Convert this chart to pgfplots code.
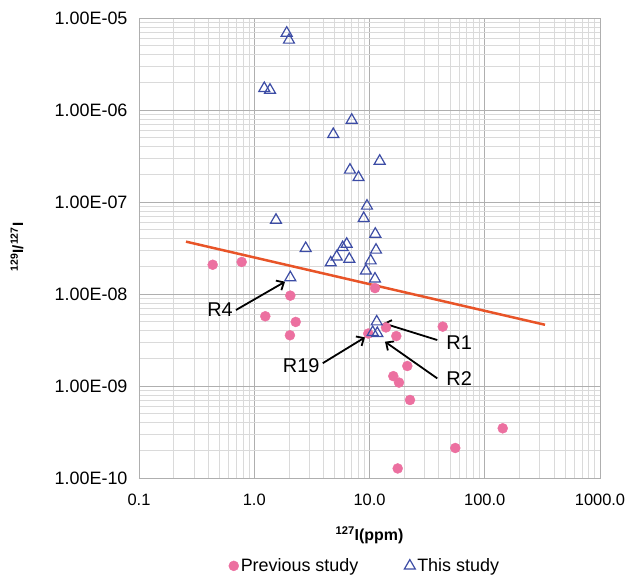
\documentclass[border=0pt]{standalone}
\usepackage{fontspec}
\setmainfont{Liberation Sans}
\usepackage{pgfplots}
\pgfplotsset{compat=1.18}
\usetikzlibrary{arrows.meta}

\definecolor{prevpink}{RGB}{236,112,160}
\definecolor{thisblue}{RGB}{60,76,165}
\definecolor{trendred}{RGB}{232,84,40}
\definecolor{majgrid}{RGB}{175,175,175}
\definecolor{mingrid}{RGB}{218,218,218}

\tikzset{
  callout/.style={-{Straight Barb[length=6bp,width=11bp]}, line width=1.8bp, black},
  rlabel/.style={font=\fontsize{20}{24}\selectfont, inner sep=3bp},
}

\begin{document}
\begin{tikzpicture}
\useasboundingbox (-139bp,-98bp) rectangle (491bp,478bp);
\begin{axis}[
  scale only axis, width=461bp, height=460bp,
  xmode=log, ymode=log,
  xmin=0.1, xmax=1000, ymin=1e-10, ymax=1e-5,
  xtick={0.1,1,10,100,1000},
  xticklabels={0.1,1.0,10.0,100.0,1000.0},
  ytick={1e-10,1e-9,1e-8,1e-7,1e-6,1e-5},
  yticklabels={1.00E-10,1.00E-09,1.00E-08,1.00E-07,1.00E-06,1.00E-05},
  grid=both,
  major grid style={majgrid, line width=0.8bp},
  minor grid style={mingrid, line width=0.8bp},
  axis line style={majgrid, line width=0.8bp},
  major tick style={draw=none}, minor tick style={draw=none},
  xticklabel style={font=\fontsize{16.5}{19}\selectfont, yshift=-12bp},
  yticklabel style={font=\fontsize{18}{21}\selectfont, xshift=-8bp},
  xlabel={\bfseries\textsuperscript{127}I(ppm)},
  xlabel style={font=\fontsize{16}{19}\selectfont, at={(axis description cs:0.5,-0.124)}, anchor=center},
  legend style={at={(axis description cs:0.49,-0.191)}, anchor=center, draw=none, fill=none,
    font=\fontsize{18}{21}\selectfont, /tikz/every even column/.append style={column sep=44bp}},
  legend columns=2,
  legend image code/.code={\draw[#1] plot coordinates {(4bp,0bp)};},
]
\addplot[trendred, line width=2.5bp, forget plot] coordinates {(0.2557,3.71e-8) (333.3,4.63e-9)};

\addplot[only marks, mark=*, mark size=5bp, color=prevpink, mark options={draw=prevpink, fill=prevpink}] coordinates {
  (0.436,2.08e-8) (0.778,2.23e-8) (2.055,9.6e-9) (1.247,5.73e-9)
  (2.29,4.97e-9) (2.04,3.56e-9) (11.16,1.16e-8) (9.76,3.72e-9)
  (13.9,4.33e-9) (17.08,3.49e-9) (43.2,4.42e-9) (21.28,1.65e-9)
  (16.09,1.28e-9) (18.03,1.09e-9) (22.46,7.05e-10) (143.2,3.47e-10)
  (55.5,2.12e-10) (17.57,1.27e-10)
};
\addlegendentry{Previous study}

\addplot[only marks, mark=triangle, mark size=6.3bp, thisblue, mark options={line width=1.2bp, draw=thisblue, fill=none}] coordinates {
  (1.912,6.87e-6) (2.002,5.77e-6) (1.222,1.72e-6) (1.370,1.65e-6)
  (7.01,7.78e-7) (4.85,5.45e-7) (12.26,2.79e-7) (6.77,2.23e-7)
  (8.03,1.85e-7) (9.51,9.06e-8) (8.91,6.65e-8) (11.23,4.49e-8)
  (2.795,3.14e-8) (6.34,3.49e-8) (5.85,3.21e-8) (11.39,3.01e-8)
  (5.19,2.54e-8) (6.68,2.40e-8) (4.61,2.19e-8) (10.24,2.30e-8)
  (9.32,1.79e-8) (11.16,1.46e-8) (2.055,1.51e-8) (1.544,6.37e-8)
  (11.55,5.0e-9) (10.66,3.84e-9) (11.69,3.74e-9)
};
\addlegendentry{This study}

\draw[callout] (axis cs:0.694,6.70e-9) -- (axis cs:1.849,1.36e-8);
\node[rlabel, anchor=east] at (axis cs:0.694,6.70e-9) {R4};
\draw[callout] (axis cs:3.93,1.77e-9) -- (axis cs:9.14,3.38e-9);
\node[rlabel, anchor=east] at (axis cs:3.93,1.65e-9) {R19};
\draw[callout] (axis cs:38.75,3.16e-9) -- (axis cs:13.18,4.81e-9);
\node[rlabel, anchor=west, xshift=6bp] at (axis cs:38.75,2.95e-9) {R1};
\draw[callout] (axis cs:38.75,1.21e-9) -- (axis cs:13.63,3.03e-9);
\node[rlabel, anchor=west, xshift=6bp] at (axis cs:38.75,1.21e-9) {R2};
\end{axis}
\node[rotate=90, font=\fontsize{15}{18}\selectfont\bfseries, inner sep=0pt] at (-122bp,231bp)
  {\textsuperscript{129}I/\textsuperscript{127}I};
\end{tikzpicture}
\end{document}
